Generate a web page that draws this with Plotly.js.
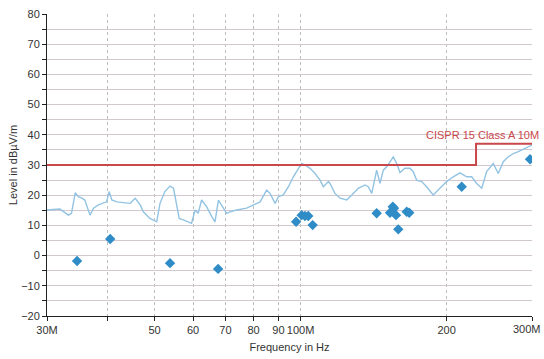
<!DOCTYPE html>
<html>
<head>
<meta charset="utf-8">
<script src="https://cdn.plot.ly/plotly-3.0.1.min.js"></script>
<style>html,body{margin:0;padding:0;background:#fff;}#chart{width:544px;height:359px;}</style>
</head>
<body>
<div id="chart"></div>
<script>
// Measured trace (frequency in MHz, level in dBµV/m)
const traceFreq = [30.0,31.9,33.2,33.7,34.3,34.8,35.4,35.9,36.8,37.4,38.3,39.8,40.3,40.8,41.8,43.1,44.5,45.6,46.7,47.4,48.9,50.5,51.3,52.5,53.8,54.7,55.5,56.2,57.3,58.7,59.6,60.6,61.5,62.5,64.0,65.6,66.6,67.7,69.3,70.4,71.5,73.8,77.4,79.9,82.5,85.1,86.5,88.6,90.0,92.1,94.4,96.6,98.9,100.5,102.1,104.6,107.1,109.7,111.4,114.1,115.0,117.7,120.6,124.5,127.5,131.5,135.8,137.9,140.2,143.5,145.8,148.1,150.5,155.3,157.8,160.3,164.1,168.1,170.7,173.5,177.7,181.9,187.7,193.8,200.0,206.4,213.1,220.0,225.3,230.7,236.3,241.9,249.6,255.6,261.8,268.0,274.5,281.1,287.9,294.8,300.0];
const traceLevel = [15.1,15.4,13.4,14.0,20.8,19.5,19.0,18.4,13.4,15.7,16.8,17.8,21.2,18.4,17.8,17.5,17.3,19.0,16.8,14.5,12.3,11.2,17.3,21.2,23.0,22.3,17.3,12.3,11.8,11.2,10.7,15.1,14.0,18.4,16.2,12.9,11.2,18.4,15.7,14.0,14.5,15.1,15.7,16.8,17.8,21.7,20.6,17.3,19.5,20.1,22.8,26.1,28.9,30.5,30.0,28.9,27.2,25.0,22.8,24.5,23.9,20.6,19.0,18.4,20.1,22.3,23.4,22.8,20.6,28.3,23.9,28.3,29.4,32.7,30.5,27.5,28.9,28.9,27.8,25.0,24.5,22.8,20.1,22.3,24.5,26.1,27.4,26.1,26.1,23.9,22.3,27.8,30.5,27.2,31.1,32.7,33.8,34.4,35.2,36.1,36.6];

// Final measurement points
const peakFreq = [34.6,40.5,53.8,67.6,97.9,100.5,102.1,103.7,105.9,143.5,152.9,154.9,155.8,157.3,159.0,165.5,167.5,214.9,297.2];
const peakLevel = [-1.8,5.5,-2.5,-4.4,11.2,13.4,13.1,13.1,10.1,14.0,14.2,16.2,15.7,13.4,8.7,14.5,14.2,22.8,31.9];

// Limit line
const limitFreq = [30, 230, 230, 300];
const limitLevel = [30, 30, 37, 37];
const limitName = 'CISPR 15 Class A 10M';

// Axis ticks
const xTickVals = [30,40,50,60,70,80,90,100,200,300];
const xTickText = ['30M','','50','60','70','80','90','100M','200',''];
const xLastLabel = '300M';
const yTickVals = [-20,-10,0,10,20,30,40,50,60,70,80];

const font = {family:'Liberation Sans, Arial, sans-serif', size:11, color:'#333'};

const data = [
  {x: traceFreq, y: traceLevel, type:'scatter', mode:'lines',
   line:{color:'#92c3e2', width:1.4}, hoverinfo:'skip'},
  {x: limitFreq, y: limitLevel, type:'scatter', mode:'lines',
   line:{color:'#c9484b', width:2}},
  {x: peakFreq, y: peakLevel, type:'scatter', mode:'markers',
   marker:{symbol:'diamond', color:'#2f8cc6', size:8}}
];

const layout = {
  width:544, height:359,
  margin:{l:47, r:12, t:14, b:43},
  paper_bgcolor:'#fff', plot_bgcolor:'#fff',
  showlegend:false,
  font: font,
  xaxis:{
    type:'log', range:[Math.log10(30), Math.log10(300)],
    tickvals: xTickVals, ticktext: xTickText,
    showgrid:true, gridcolor:'#bdbdbd', griddash:'dot', gridwidth:1,
    showline:true, linecolor:'#222', linewidth:1,
    ticks:'outside', ticklen:4, tickcolor:'#222',
    zeroline:false, tickfont:font,
    title:{text:'Frequency in Hz', font:font, standoff:8}
  },
  yaxis:{
    range:[-20,80], tickvals: yTickVals,
    showgrid:true, gridcolor:'#d3c8d0', gridwidth:1,
    showline:true, linecolor:'#222', linewidth:1,
    ticks:'outside', ticklen:4, tickcolor:'#222',
    minor:{dtick:5, showgrid:true, gridcolor:'#d3c8d0', ticks:'outside', ticklen:4, tickcolor:'#222'},
    zeroline:false, tickfont:font,
    title:{text:'Level in dBµV/m', font:font, standoff:1}
  },
  annotations:[{
    text: limitName, xref:'paper', yref:'y', x:1.019, y:37,
    xanchor:'right', yanchor:'bottom', yshift:1, showarrow:false,
    font:{family:'Liberation Sans, Arial, sans-serif', size:11, color:'#c9484b'}
  },{
    text: xLastLabel, xref:'paper', yref:'paper', x:1.0235, y:0,
    xanchor:'right', yanchor:'top', yshift:-5, showarrow:false,
    font:font
  }]
};

Plotly.newPlot('chart', data, layout, {displayModeBar:false, staticPlot:true});
</script>
</body>
</html>
